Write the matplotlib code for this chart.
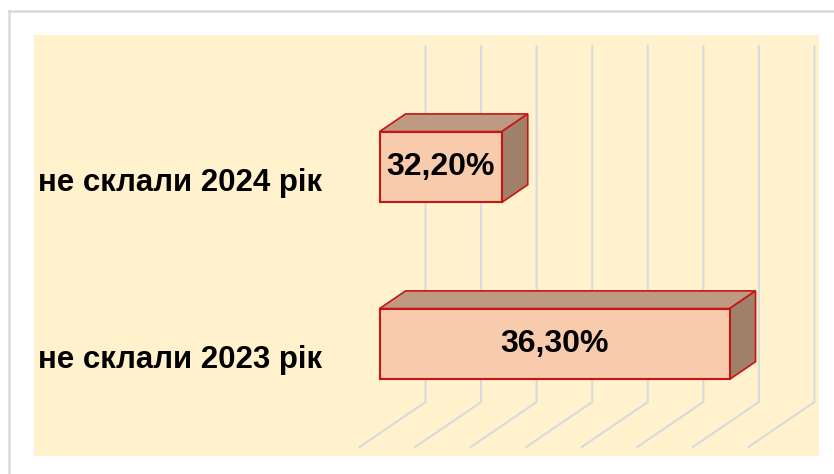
import matplotlib
matplotlib.use("Agg")
import matplotlib.pyplot as plt
from matplotlib.patches import Polygon
from matplotlib.lines import Line2D

# data
categories = ["не склали 2023 рік", "не склали 2024 рік"]
values = [36.3, 32.2]
value_labels = ["36,30%", "32,20%"]
grid_ticks = [30, 31, 32, 33, 34, 35, 36, 37]

AXIS_MIN = 30
BAR_H = 0.4
# depth vector of the fake 3d (data units per "box depth")
DX, DY = 0.468, 0.100
FLOOR_DX, FLOOR_DY = -0.36, -0.077   # front edge of floor
WALL_DX, WALL_DY = 0.828, 0.177      # back wall
FLOOR_Y, WALL_TOP = -0.505, 1.507

cream = "#FFF2CC"
front_col = "#F8CBAD"
top_col = "#BE9A82"
side_col = "#A08069"
edge_col = "#C81414"
grid_col = "#D8DADF"

fig = plt.figure(figsize=(8.34, 4.74), dpi=100)
ax = fig.add_axes([34 / 834, 18 / 474, 785 / 834, 421 / 474])
ax.set_facecolor(cream)
ax.set_xlim(23.78, 37.91)
ax.set_ylim(-0.633, 1.746)
ax.set_xticks([])
ax.set_yticks([])
for s in ax.spines.values():
    s.set_visible(False)

# gridlines: back wall + floor
for v in grid_ticks:
    xs = [v + WALL_DX, v + WALL_DX, v + FLOOR_DX]
    ys = [WALL_TOP + WALL_DY, FLOOR_Y + WALL_DY, FLOOR_Y + FLOOR_DY]
    ax.plot(xs, ys, color=grid_col, lw=1.5, zorder=1, solid_joinstyle="miter")

# bars
for i, (cat, val, lab) in enumerate(zip(categories, values, value_labels)):
    y0 = i - BAR_H / 2
    y1 = i + BAR_H / 2
    x0 = AXIS_MIN
    top = Polygon([(x0, y1), (val, y1), (val + DX, y1 + DY), (x0 + DX, y1 + DY)],
                  closed=True, facecolor=top_col, edgecolor=edge_col, lw=1.2, zorder=3)
    side = Polygon([(val, y0), (val + DX, y0 + DY), (val + DX, y1 + DY), (val, y1)],
                   closed=True, facecolor=side_col, edgecolor=edge_col, lw=1.2, zorder=3)
    front = Polygon([(x0, y0), (val, y0), (val, y1), (x0, y1)],
                    closed=True, facecolor=front_col, edgecolor=edge_col, lw=1.5, zorder=4)
    ax.add_patch(top)
    ax.add_patch(side)
    ax.add_patch(front)
    ax.text((x0 + val) / 2, i, lab, ha="center", va="center", fontsize=23,
            fontweight="bold", family="Liberation Sans", color="black", zorder=5)
    ax.text(26.4, i - 0.09, cat, ha="center", va="center", fontsize=22.5,
            fontweight="bold", family="Liberation Sans", color="black", zorder=5)

# outer chart border (left and top only visible)
fig.add_artist(Line2D([8.5 / 834, 8.5 / 834], [0, 1 - 11 / 474], color="#D9D9D9", lw=1.8))
fig.add_artist(Line2D([8.5 / 834, 1], [1 - 11 / 474, 1 - 11 / 474], color="#D9D9D9", lw=1.8))

fig.savefig("out.png", dpi=100)
